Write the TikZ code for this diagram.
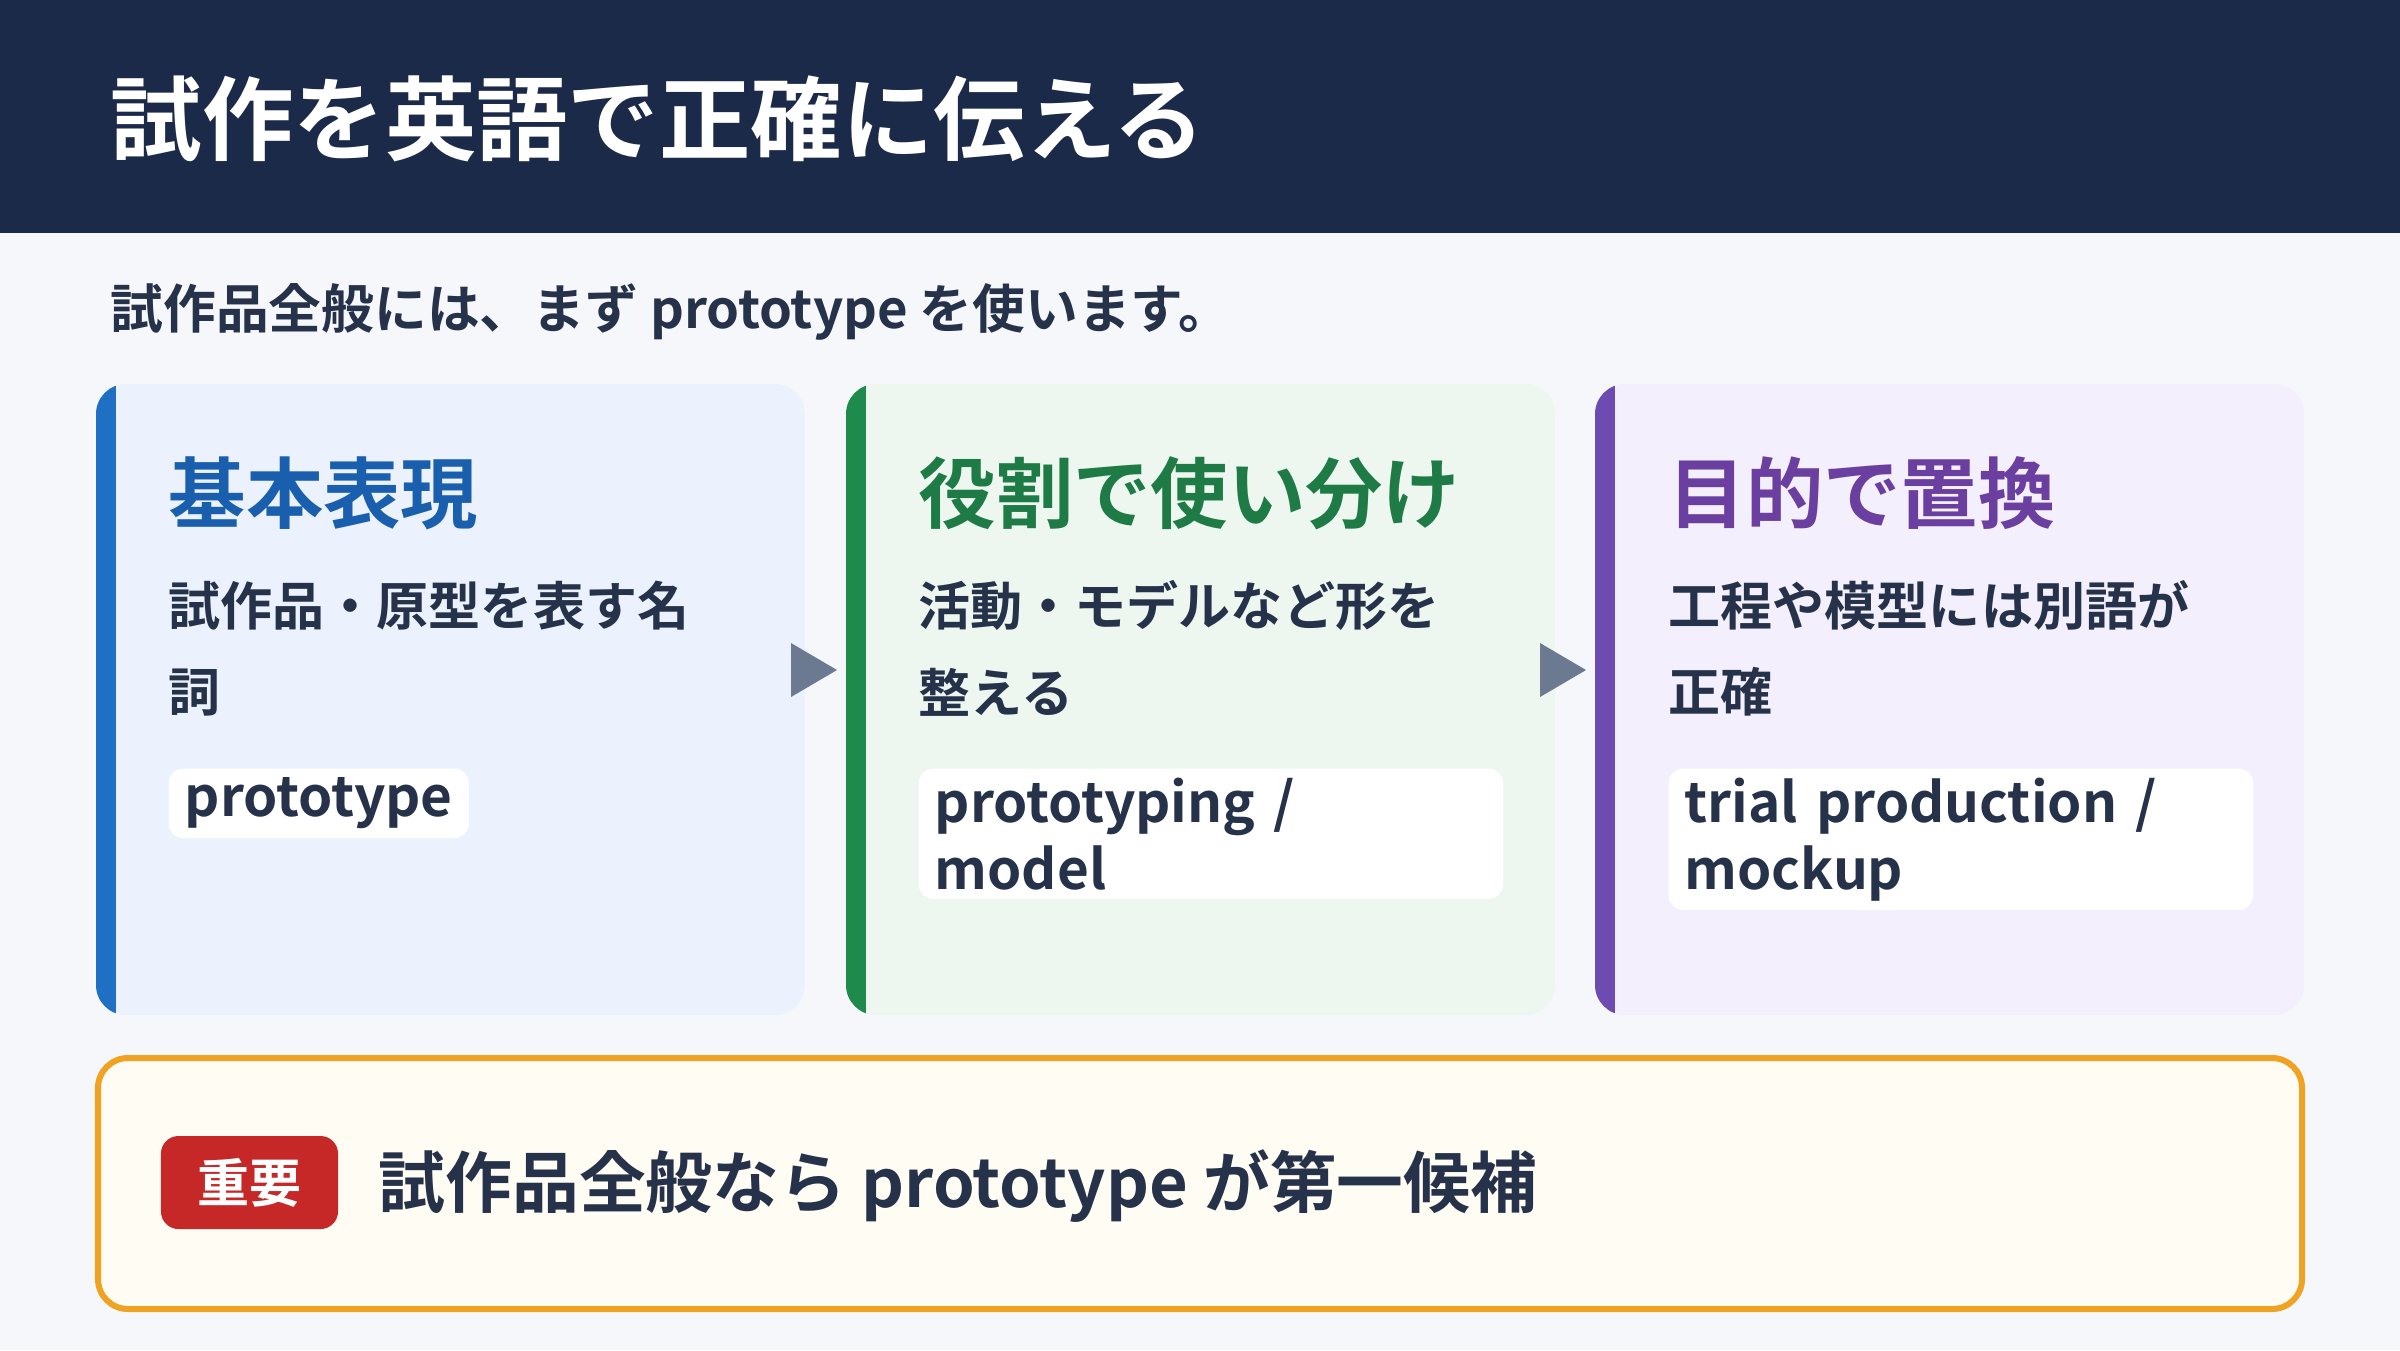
\documentclass[tikz,border=0pt]{standalone}
\usepackage{fontspec}
\setmainfont{Noto Sans CJK JP}[BoldFont={Noto Sans CJK JP Bold}]
\definecolor{navy}{HTML}{1C2A4A}
\definecolor{bg}{HTML}{F5F7FB}
\definecolor{ink}{HTML}{26324A}
\definecolor{bA}{HTML}{1F6FC5}\definecolor{fA}{HTML}{EBF2FD}\definecolor{hA}{HTML}{1A5FAE}
\definecolor{bB}{HTML}{1E8A4C}\definecolor{fB}{HTML}{EDF7EF}\definecolor{hB}{HTML}{1E7B45}
\definecolor{bC}{HTML}{6E4BB0}\definecolor{fC}{HTML}{F3EFFC}\definecolor{hC}{HTML}{6B3FA0}
\definecolor{arr}{HTML}{6B7A90}
\definecolor{org}{HTML}{F0A322}\definecolor{cream}{HTML}{FFFCF3}
\definecolor{red}{HTML}{C62828}
\tikzset{
 head/.style={anchor=west,font=\fontsize{22}{26}\selectfont\bfseries,inner sep=0},
 body/.style={anchor=north west,align=left,font=\fontsize{14.8}{24.5}\selectfont\bfseries,text=ink,inner sep=0},
 code/.style={anchor=north west,align=left,fill=white,rounded corners=4pt,font=\fontsize{15.6}{19}\selectfont\bfseries,text=ink,inner xsep=0.16cm,inner ysep=0.09cm},
 tri/.style={fill=arr},
}
\begin{document}
\begin{tikzpicture}[x=0.01cm,y=-0.01cm]
\useasboundingbox (0,0) rectangle (2400,1350);
\fill[bg] (0,0) rectangle (2400,1350);
\fill[navy] (0,0) rectangle (2400,233);
\node[anchor=west,text=white,font=\fontsize{26}{30}\selectfont\bfseries,inner sep=0] (title) at (110,119) {試作を英語で正確に伝える};
\node[anchor=west,text=ink,font=\fontsize{15}{18}\selectfont\bfseries,inner sep=0] (sub) at (110,312) {試作品全般には、まず prototype を使います。};
% cards
\foreach \x/\b/\f [count=\i] in {96/bA/fA,846/bB/fB,1595/bC/fC}{
  \begin{scope}
  \clip[rounded corners=0.3cm] (\x,384) rectangle (\x+709,1015);
  \fill[\f] (\x,384) rectangle (\x+709,1015);
  \fill[\b] (\x,384) rectangle (\x+20,1015);
  \end{scope}
}
\node[head,text=hA] (h1) at (168,493) {基本表現};
\node[head,text=hB] (h2) at (918,493) {役割で使い分け};
\node[head,text=hC] (h3) at (1668,493) {目的で置換};
\node[body] (t1) at (168,580) {試作品・原型を表す名\\詞};
\node[body] (t2) at (918,580) {活動・モデルなど形を\\整える};
\node[body] (t3) at (1668,580) {工程や模型には別語が\\正確};
\node[code] (c1) at (168,768) {prototype};
\node[code,text width=5.52cm] (c2) at (918,768) {prototyping /\\model};
\node[code,text width=5.52cm] (c3) at (1668,768) {trial production /\\mockup};
\fill[tri] (791,643) -- (837,670) -- (791,697) -- cycle;
\fill[tri] (1540,643) -- (1586,670) -- (1540,697) -- cycle;
% bottom
\draw[org,line width=0.06cm,fill=cream,rounded corners=0.3cm] (98,1058) rectangle (2302,1309);
\node[fill=red,rounded corners=5pt,text=white,font=\fontsize{14.8}{18}\selectfont\bfseries,minimum width=1.77cm,minimum height=0.93cm,inner sep=0] (badge) at (249.5,1182.5) {重要};
\node[anchor=west,text=ink,font=\fontsize{19}{22}\selectfont\bfseries,inner sep=0] (main) at (378,1186) {試作品全般なら prototype が第一候補};
\end{tikzpicture}
\end{document}
